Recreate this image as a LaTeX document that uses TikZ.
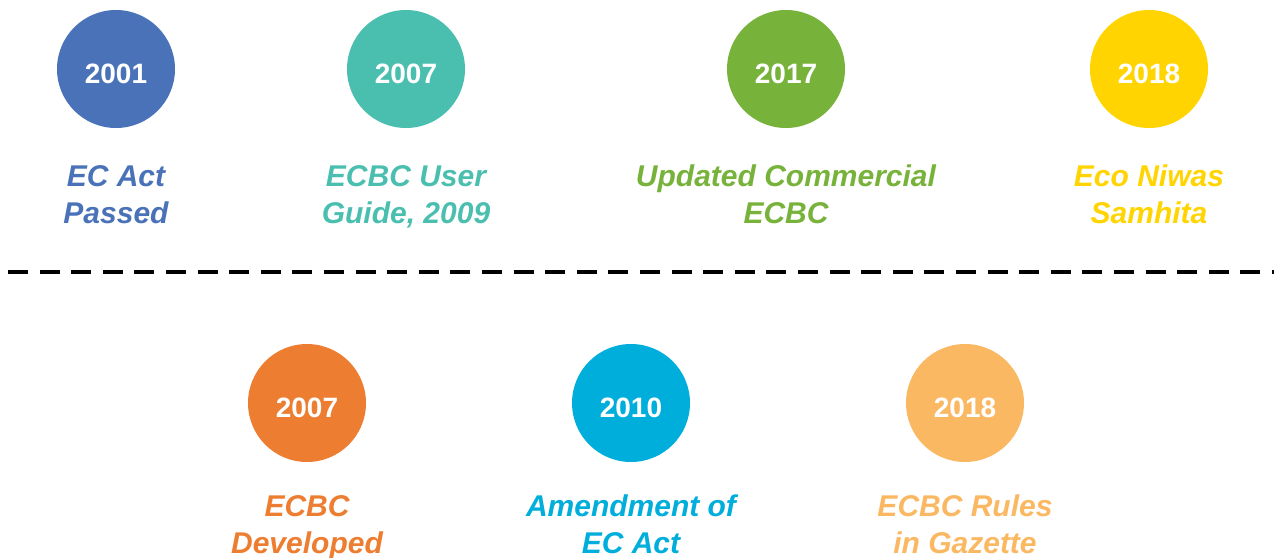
\documentclass[tikz,border=0pt]{standalone}
\usepackage{fontspec}
\setmainfont{Liberation Sans}
\definecolor{cblue}{HTML}{4A72B8}
\definecolor{cteal}{HTML}{4ABFAF}
\definecolor{cgreen}{HTML}{77B23A}
\definecolor{cyellow}{HTML}{FFD400}
\definecolor{corange}{HTML}{ED7D31}
\definecolor{ccyan}{HTML}{00AEDB}
\definecolor{clight}{HTML}{FBB862}
\begin{document}
\begin{tikzpicture}[x=1pt,y=-1pt,
  year/.style={circle,minimum size=118pt,inner sep=0pt,fill=#1,text=white,
    text height=28pt,text depth=0pt,
    font=\fontsize{28}{34}\selectfont\bfseries},
  event/.style={text=#1,align=center,inner sep=0pt,anchor=base,
    font=\fontsize{30}{37}\selectfont\bfseries\itshape}]
\useasboundingbox (0,0) rectangle (1274,557);
\draw[line width=4.5pt,dash pattern=on 20pt off 11.6pt] (8,272)--(1274,272);
% top row
\node[year=cblue] (y1) at (116,69) {2001};
\node[year=cteal] (y2) at (406,69) {2007};
\node[year=cgreen] (y3) at (786,69) {2017};
\node[year=cyellow] (y4) at (1149,69) {2018};
\node[event=cblue] (e1) at (116,223) {EC Act\\Passed};
\node[event=cteal] (e2) at (406,223) {ECBC User\\Guide, 2009};
\node[event=cgreen] (e3) at (786,223) {Updated Commercial\\ECBC};
\node[event=cyellow] (e4) at (1149,223) {Eco Niwas\\Samhita};
% bottom row
\node[year=corange] (y5) at (307,403) {2007};
\node[year=ccyan] (y6) at (631,403) {2010};
\node[year=clight] (y7) at (965,403) {2018};
\node[event=corange] (e5) at (307,553) {ECBC\\Developed};
\node[event=ccyan] (e6) at (631,553) {Amendment of\\EC Act};
\node[event=clight] (e7) at (965,553) {ECBC Rules\\in Gazette};
\end{tikzpicture}
\end{document}
